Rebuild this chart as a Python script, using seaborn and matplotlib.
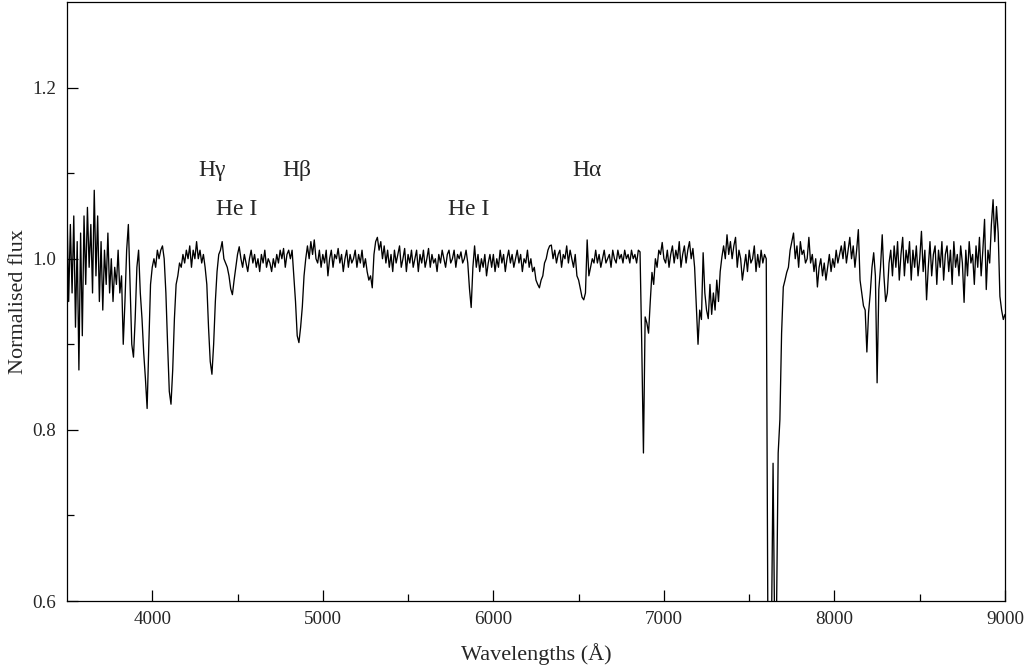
import numpy as np
import pandas as pd
import matplotlib
matplotlib.use("Agg")
import matplotlib.pyplot as plt
import seaborn as sns

# values, one every 10 A from 3500 to 9000
flux_3500 = [1.06, 0.95, 1.04, 0.96, 1.05, 0.92, 1.02, 0.87, 1.03, 0.91,
             1.05, 0.97, 1.06, 0.99, 1.04, 0.96, 1.08, 0.98, 1.05, 0.95,
             1.02, 0.94, 1.01, 0.97, 1.03, 0.96, 1.00, 0.95, 0.99, 0.97,
             1.01, 0.96, 0.98, 0.90, 0.95, 1.01, 1.04, 0.97, 0.90, 0.885,
             0.93, 0.99, 1.01, 0.96, 0.93, 0.89, 0.86, 0.825, 0.90, 0.97]
flux_4000 = [0.99, 1.00, 0.99, 1.01, 1.00, 1.01, 1.015, 1.00, 0.96, 0.90,
             0.845, 0.83, 0.87, 0.93, 0.97, 0.98, 0.995, 0.99, 1.005, 0.995,
             1.01, 1.00, 1.015, 0.99, 1.01, 1.00, 1.02, 1.00, 1.01, 0.995,
             1.005, 0.99, 0.97, 0.92, 0.88, 0.865, 0.90, 0.95, 0.985, 1.005,
             1.01, 1.02, 1.00, 0.995, 0.99, 0.98, 0.965, 0.958, 0.975, 0.99]
flux_4500 = [1.005, 1.014, 1.00, 0.99, 1.005, 0.995, 0.985, 1.00, 1.01, 0.995,
             1.005, 0.99, 1.00, 0.985, 1.005, 0.995, 1.01, 0.99, 1.00, 0.995,
             0.985, 1.00, 0.99, 1.005, 0.995, 1.01, 1.00, 1.012, 0.99, 1.005,
             1.01, 1.00, 1.01, 0.98, 0.95, 0.91, 0.902, 0.92, 0.944, 0.98,
             1.00, 1.015, 1.00, 1.02, 1.005, 1.022, 1.00, 0.995, 1.01, 0.99]
flux_5000 = [1.005, 0.995, 1.01, 0.98, 1.00, 1.01, 0.99, 1.005, 1.00, 1.012,
             0.995, 1.005, 0.985, 1.00, 1.01, 0.99, 1.005, 0.995, 1.00, 1.01,
             0.99, 1.005, 0.995, 1.01, 0.99, 1.00, 0.985, 0.975, 0.98, 0.966,
             1.005, 1.02, 1.025, 1.01, 1.02, 1.00, 1.015, 0.995, 1.01, 0.99,
             1.005, 0.985, 1.01, 0.995, 1.005, 1.015, 0.99, 1.00, 1.012, 0.985]
flux_5500 = [1.005, 0.995, 1.01, 0.99, 1.00, 1.01, 0.985, 1.005, 0.995, 1.01,
             0.99, 1.00, 1.012, 0.99, 1.005, 0.995, 1.00, 0.985, 1.005, 0.995,
             1.01, 1.00, 0.99, 1.005, 1.01, 0.995, 1.00, 1.01, 0.99, 1.005,
             1.00, 1.008, 0.995, 1.00, 1.01, 0.995, 0.965, 0.943, 0.99, 1.015,
             0.99, 1.005, 0.985, 1.00, 0.99, 1.005, 0.98, 0.995, 1.005, 0.99]
flux_6000 = [1.005, 0.985, 1.00, 0.99, 1.01, 0.995, 1.005, 0.985, 1.00, 1.01,
             0.995, 1.005, 0.99, 1.00, 1.01, 0.995, 1.005, 0.985, 1.00, 0.995,
             1.01, 0.99, 1.00, 0.985, 0.99, 0.975, 0.97, 0.966, 0.975, 0.98,
             0.995, 1.00, 1.01, 1.015, 1.016, 1.00, 1.01, 0.995, 1.005, 1.01,
             0.99, 1.005, 1.00, 1.015, 0.995, 1.01, 1.00, 0.99, 1.005, 0.98]
flux_6500 = [0.975, 0.965, 0.955, 0.952, 0.96, 1.022, 0.98, 0.99, 1.00, 0.995,
             1.01, 0.995, 1.005, 0.99, 1.00, 1.01, 0.995, 1.00, 1.005, 0.99,
             1.01, 1.00, 0.995, 1.01, 1.00, 1.005, 0.995, 1.01, 1.00, 1.005,
             0.995, 1.01, 1.00, 1.005, 0.995, 1.01, 1.008, 0.90, 0.773, 0.932,
             0.925, 0.913, 0.95, 0.984, 0.97, 1.00, 0.99, 1.01, 1.005, 1.019]
flux_7000 = [1.00, 0.995, 1.01, 0.99, 1.005, 1.015, 0.995, 1.01, 1.00, 1.02,
             0.99, 1.005, 1.015, 0.995, 1.01, 1.02, 1.00, 1.012, 0.99, 0.944,
             0.90, 0.94, 0.929, 1.007, 0.96, 0.94, 0.93, 0.97, 0.935, 0.96,
             0.94, 0.975, 0.95, 0.985, 1.002, 1.015, 1.00, 1.028, 1.005, 1.02,
             1.00, 1.015, 1.025, 0.99, 1.01, 1.00, 0.975, 0.99, 1.005, 0.985]
flux_7500 = [1.01, 0.995, 1.00, 1.015, 0.985, 1.005, 0.99, 1.01, 0.995, 1.005,
             1.00, 0.55, 0.50, 0.55, 0.761, 0.55, 0.58, 0.773, 0.812, 0.913,
             0.967, 0.975, 0.984, 0.99, 1.01, 1.02, 1.03, 1.00, 1.015, 0.99,
             1.02, 1.005, 1.01, 0.995, 1.00, 1.025, 0.995, 1.005, 0.985, 1.00,
             0.967, 0.99, 1.00, 0.98, 0.995, 0.975, 0.99, 1.005, 0.985, 1.00]
flux_8000 = [0.99, 1.01, 0.995, 1.005, 1.015, 1.00, 1.02, 0.995, 1.01, 1.025,
             1.00, 1.015, 0.99, 1.01, 1.034, 0.975, 0.96, 0.945, 0.94, 0.891,
             0.937, 0.96, 0.99, 1.007, 0.98, 0.855, 0.964, 0.99, 1.028, 0.98,
             0.95, 0.96, 0.995, 1.01, 0.98, 1.015, 0.99, 1.02, 0.975, 1.005,
             1.025, 0.98, 1.01, 0.995, 1.02, 0.975, 1.01, 0.99, 1.015, 0.98]
flux_8500 = [1.00, 1.032, 0.985, 1.01, 0.952, 0.99, 1.02, 0.98, 1.005, 1.015,
             0.97, 1.01, 0.99, 1.02, 0.975, 1.005, 1.015, 0.985, 1.01, 0.97,
             1.02, 0.99, 1.005, 0.98, 1.015, 0.995, 0.949, 1.01, 0.98, 1.02,
             0.995, 1.005, 0.97, 1.015, 0.99, 1.025, 0.98, 1.01, 1.046, 0.964,
             1.01, 0.995, 1.04, 1.069, 1.02, 1.061, 1.03, 0.956, 0.94, 0.929,
             0.935]

flux = (flux_3500 + flux_4000 + flux_4500 + flux_5000 + flux_5500 + flux_6000
        + flux_6500 + flux_7000 + flux_7500 + flux_8000 + flux_8500)
wavelength = np.arange(3500, 9001, 10)

# line identifications
line_labels = ["H\u03b3", "H\u03b2", "H\u03b1", "He I", "He I"]
line_wave = [4350, 4849, 6549, 4497, 5857]
line_level = [1.103, 1.103, 1.103, 1.058, 1.058]

df = pd.DataFrame({"wave": wavelength, "flux": flux})

sns.set_style("ticks")
plt.rcParams["font.family"] = ["Liberation Serif", "DejaVu Serif"]
plt.rcParams["axes.linewidth"] = 0.9

fig = plt.figure(figsize=(10.27, 6.69), dpi=100)
ax = fig.add_axes([0.0652, 0.1016, 0.9134, 0.8954])

sns.lineplot(data=df, x="wave", y="flux", color="black", linewidth=0.95, ax=ax)

for lab, w, lev in zip(line_labels, line_wave, line_level):
    ax.text(w, lev, lab, ha="center", va="center", fontsize=17)

ax.set_xlim(3500, 9000)
ax.set_ylim(0.6, 1.3)
ax.set_xticks([4000, 5000, 6000, 7000, 8000, 9000])
ax.set_xticks([4500, 5500, 6500, 7500, 8500], minor=True)
ax.set_yticks([0.6, 0.8, 1.0, 1.2])
ax.set_yticks([0.7, 0.9, 1.1], minor=True)
ax.set_yticklabels(["0.6", "0.8", "1.0", "1.2"])
ax.tick_params(which="both", direction="in", top=False, right=False,
               width=0.9, labelsize=13.7, color="black")
ax.tick_params(which="major", length=8)
ax.tick_params(which="minor", length=5)
ax.tick_params(axis="x", pad=7)
ax.tick_params(axis="y", pad=8)

for s in ax.spines.values():
    s.set_visible(True)
    s.set_color("black")

ax.set_xlabel("Wavelengths (\u00c5)", fontsize=16)
ax.set_ylabel("Normalised flux", fontsize=16)
ax.xaxis.set_label_coords(0.5, -0.071)
ax.yaxis.set_label_coords(-0.041, 0.5)

fig.savefig("out.png", dpi=100, facecolor="white")
